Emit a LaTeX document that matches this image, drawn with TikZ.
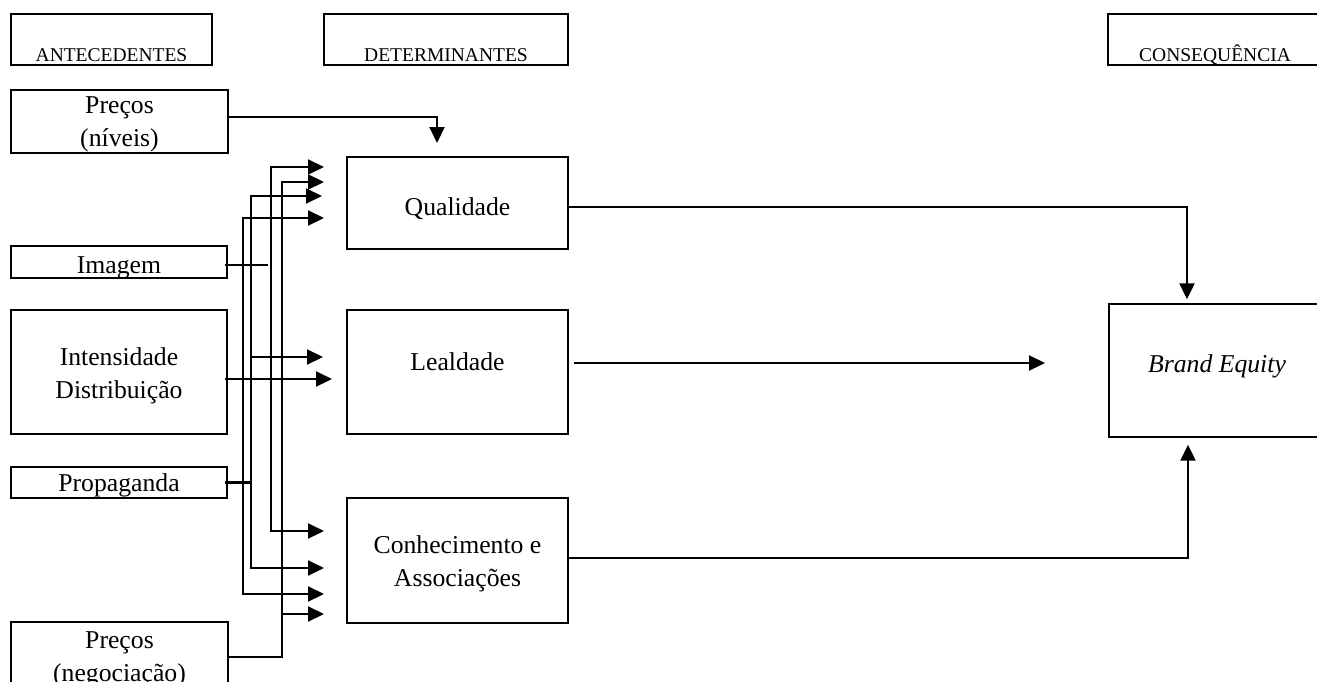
\documentclass[tikz,border=0pt]{standalone}
\usepackage{fontspec}
\setmainfont{Liberation Serif}
\usetikzlibrary{arrows.meta}

\begin{document}
\begin{tikzpicture}[
    x=1pt, y=-1pt,
    % --- Boxes ---
    box/.style={
        draw=black,
        line width=1.4pt,
        align=center,
        inner sep=0pt,
        text height=0pt,
        text depth=0pt,
        font=\fontsize{25.7}{33}\selectfont
    },
    % --- Column Headers ---
    head box/.style={
        draw=black,
        line width=1.4pt,
        inner sep=0pt,
        minimum width=#1,
        text height=47pt,
        text depth=4pt,
        font=\fontsize{19.5}{23}\selectfont
    },
    % --- Connecting Lines ---
    link/.style={line width=2.1pt},
    flow arrow/.style={
        link,
        -{Triangle[length=16pt, width=15pt]}
    },
    twin arrow/.style={
        link,
        {Triangle[length=16pt, width=15pt]}-{Triangle[length=16pt, width=15pt]}
    }
]

    \useasboundingbox (0,0) rectangle (1317,681);
    \clip (0,0) rectangle (1317,681);

    % =========================================
    % 1. COLUMN HEADERS
    % =========================================
    \node[head box=201pt] (hAnte) at (111.5,39.5) {ANTECEDENTES};
    \node[head box=244pt] (hDet) at (446,39.5) {DETERMINANTES};
    \node[head box=214pt] (hCons) at (1215,39.5) {CONSEQUÊNCIA};

    % =========================================
    % 2. ANTECEDENTS (left column)
    % =========================================
    \node[box, minimum width=217pt, minimum height=63pt, text height=50pt] (precNiv) at (119.5,121.5) {Preços\\(níveis)};
    \node[box, minimum width=216pt, minimum height=32pt, text height=23pt] (imagem) at (119,262) {Imagem};
    \node[box, minimum width=216pt, minimum height=124pt, text height=53pt] (intens) at (119,372) {Intensidade\\Distribuição};
    \node[box, minimum width=216pt, minimum height=31pt, text height=18pt] (propag) at (119,482.5) {Propaganda};
    \node[box, minimum width=217pt, minimum height=63pt, text height=56pt] (precNeg) at (119.5,653.5) {Preços\\(negociação)};

    % =========================================
    % 3. DETERMINANTS AND CONSEQUENCE
    % =========================================
    \node[box, minimum width=221pt, minimum height=92pt, text height=25pt] (qual) at (457.5,203) {Qualidade};
    \node[box, minimum width=221pt, minimum height=124pt, text depth=3pt] (leal) at (457.5,372) {Lealdade};
    \node[box, minimum width=221pt, minimum height=125pt, text height=52pt] (conh) at (457.5,560.5) {Conhecimento e\\Associações};
    \node[box, minimum width=216pt, minimum height=133pt, text height=4pt] (brand) at (1217,370.5) {\itshape Brand Equity};

    % Free arrow ends (left of the determinant boxes)
    \coordinate (tQ1) at (324,167);
    \coordinate (tQ2) at (324,182);
    \coordinate (tQ3) at (322,196);
    \coordinate (tQ4) at (324,218);
    \coordinate (tL1) at (323,357);
    \coordinate (tL2) at (332,379);
    \coordinate (tC1) at (324,531);
    \coordinate (tC2) at (324,568);
    \coordinate (tC3) at (324,594);
    \coordinate (tC4) at (324,614);
    \coordinate (tNiv) at (437,143);
    \coordinate (tLeal) at (1045,363);

    % Vertical bus lines
    \coordinate (busA) at (243,0);
    \coordinate (busB) at (251,0);
    \coordinate (busC) at (271,0);
    \coordinate (busD) at (282,0);

    % =========================================
    % 4. CONNECTORS
    % =========================================
    \draw[flow arrow] ([yshift=4.5pt]precNiv.east) -| (tNiv);

    \draw[link] ([xshift=-3pt,yshift=-3pt]imagem.east) -- ++(43,0);
    \draw[link] ([xshift=-3pt]propag.east) -- ++(25,0);
    \draw[flow arrow] ([xshift=-3pt,yshift=-7pt]intens.east) -- (tL2);

    \draw[twin arrow] (tQ4) -- (busA |- tQ4) -- (busA |- tC3) -- (tC3);
    \draw[twin arrow] (tQ3) -- (busB |- tQ3) -- (busB |- tC2) -- (tC2);
    \draw[flow arrow] (busB |- tL1) -- (tL1);
    \draw[twin arrow] (tQ1) -- (busC |- tQ1) -- (busC |- tC1) -- (tC1);

    \draw[flow arrow] ([yshift=-3.5pt]precNeg.east) -| (busD |- tQ2) -- (tQ2);
    \draw[flow arrow] (busD |- tC4) -- (tC4);

    % Determinants -> Brand Equity
    \draw[flow arrow, shorten >=4pt] ([yshift=-4pt]qual.east) -| ([xshift=-30pt]brand.north);
    \draw[flow arrow] ([xshift=5pt,yshift=9pt]leal.east) -- (tLeal);
    \draw[flow arrow, shorten >=7pt] ([yshift=2.5pt]conh.east) -| ([xshift=-29pt]brand.south);

\end{tikzpicture}
\end{document}
